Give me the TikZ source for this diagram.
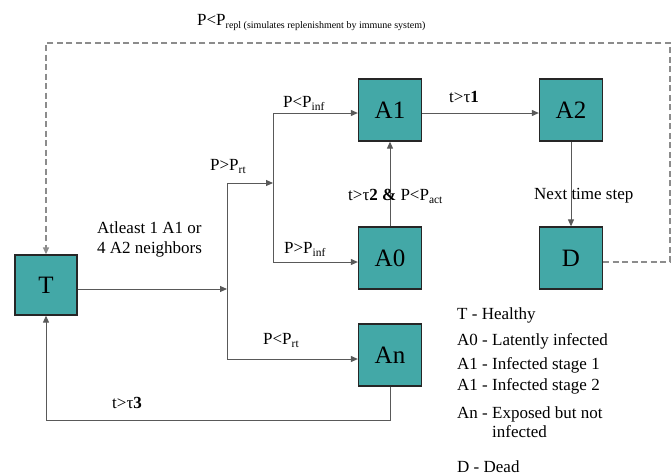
\documentclass[tikz,border=0pt]{standalone}
\usepackage{fontspec}
\setmainfont{Liberation Serif}
\usetikzlibrary{arrows.meta,positioning,calc}
\definecolor{cellteal}{HTML}{43A8A7}
\newcommand{\sbs}[1]{\raisebox{-3.5pt}{\fontsize{11.5}{12}\selectfont #1}}
\newcommand{\sbsmall}[1]{\raisebox{-3.5pt}{\fontsize{10}{11}\selectfont #1}}

\begin{document}
\begin{tikzpicture}[x=1pt,y=-1pt,
  state/.style={rectangle,draw=black!85,fill=cellteal,line width=1.3pt,
                minimum width=63pt,minimum height=62pt,inner sep=0pt,
                font=\fontsize{25}{25}\selectfont},
  cond/.style={font=\fontsize{17}{20}\selectfont,inner sep=0pt,anchor=base west},
  link/.style={draw=black!65,line width=1pt},
  flow/.style={link,-{Triangle[length=7pt,width=6pt]}},
  repl/.style={draw=black!45,line width=1.4pt,dash pattern=on 6pt off 3.5pt,
               -{Triangle[length=7pt,width=6pt]}}]
\useasboundingbox (0,0) rectangle (672,475);

% states
\node[state,minimum width=62pt,minimum height=60pt] (T) at (46,285) {T};
\node[state] (A1) at (390,110) {A1};
\node[state] (A2) at (571,110) {A2};
\node[state] (A0) at (390,258) {A0};
\node[state] (D)  at (571,258) {D};
\node[state] (An) at (390,355) {An};

% junctions
\coordinate (split)  at (227,289);
\coordinate (splitT) at (227,183);
\coordinate (splitB) at (227,359);
\coordinate (forkT)  at (273,113);
\coordinate (forkB)  at (273,262);
\coordinate (forkM)  at (273,183);
\coordinate (backL)  at (46,420);
\coordinate (replTR) at (670,43);
\coordinate (replTL) at (46,43);

% transitions
\draw[flow] (T.east |- split) -- (split);
\draw[link] (splitT) -- (splitB);
\draw[flow] (splitT) -- (forkM);
\draw[flow] (splitB) -- (splitB -| An.west);
\draw[link] (forkT) -- (forkB);
\draw[flow] (forkT) -- (forkT -| A1.west);
\draw[flow] (forkB) -- (forkB -| A0.west);
\draw[flow] (A1.east |- forkT) -- (A2.west |- forkT);
\draw[flow] (A0) -- (A1);
\draw[flow] (A2) -- (D);
\draw[flow] (An.south) |- (backL) -- (T.south);
\draw[repl] (D.east |- forkB) -| (replTR) -- (replTL) -- (T.north);

% conditions
\node[cond] (lrepl) at (197,25) {P<P\sbsmall{repl (simulates replenishment by immune system)}};
\node[cond,align=left] (lnbr) at (97,253) {Atleast 1 A1 or\\4 A2 neighbors};
\node[cond] (lrtg) at (210,170) {P>P\sbs{rt}};
\node[cond] (lrtl) at (263,344) {P<P\sbs{rt}};
\node[cond] (linfl) at (283,107) {P<P\sbs{inf}};
\node[cond] (linfg) at (284,253) {P>P\sbs{inf}};
\node[cond] (ltau1) at (449,102) {t>τ\textbf{1}};
\node[cond] (lact) at (348,200) {t>τ\textbf{2} \textbf{\&} P<P\sbs{act}};
\node[cond] (lnext) at (534,199) {Next time step};
\node[cond] (ltau3) at (112,408) {t>τ\textbf{3}};

% legend
\node[cond] (kT)  at (457,319) {T - Healthy};
\node[cond] (kA0) at (457,345) {A0 - Latently infected};
\node[cond] (kA1) at (457,369) {A1 - Infected stage 1};
\node[cond] (kA2) at (457,390) {A1 - Infected stage 2};
\node[cond] (kAn) at (457,418) {An - Exposed but not};
\node[cond] (kAx) at (492,437) {infected};
\node[cond] (kD)  at (457,472) {D - Dead};
\end{tikzpicture}
\end{document}
